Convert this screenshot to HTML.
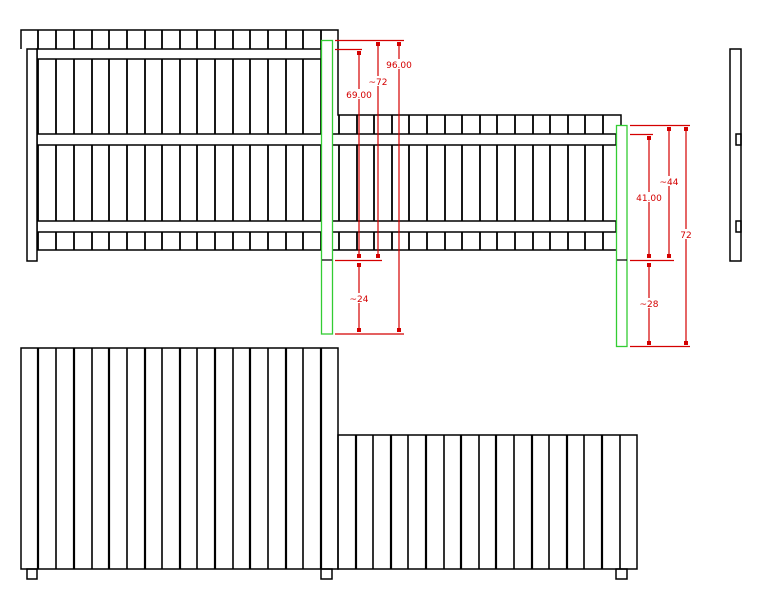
<!DOCTYPE html>
<html><head><meta charset="utf-8"><style>
html,body{margin:0;padding:0;background:#fff;width:762px;height:596px;overflow:hidden}
svg{display:block}
text{font-family:"DejaVu Sans","Liberation Sans",sans-serif;font-size:9px;fill:#d40000;text-anchor:middle}
</style></head><body>
<svg width="762" height="596" viewBox="0 0 762 596" xmlns="http://www.w3.org/2000/svg">
<g stroke="#000" fill="none">
<g stroke-width="1.8">
<path d="M38 30V250M56 30V250M74 30V250M92 30V250M109 30V250M127 30V250M145 30V250M162 30V250M180 30V250M197 30V250M215 30V250M233 30V250M250 30V250M268 30V250M286 30V250M303 30V250M321 30V250"/>
<path d="M339 115V250M357 115V250M374 115V250M392 115V250M409 115V250M427 115V250M445 115V250M462 115V250M480 115V250M497 115V250M515 115V250M533 115V250M550 115V250M568 115V250M585 115V250M603 115V250"/>
</g>
<g stroke-width="1.5">
<path d="M21 49V30H338V115H621V125"/>
<path d="M37 250H616"/>
</g>
<g fill="#fff" stroke-width="1.5">
<rect x="37" y="49" width="284" height="10"/>
<rect x="37" y="134" width="579" height="11"/>
<rect x="37" y="221" width="579" height="11"/>
<rect x="27" y="49" width="10" height="212"/>
</g>
<g stroke-width="1.5">
<rect x="730" y="49" width="11" height="212" fill="#fff"/>
<rect x="736" y="134" width="5" height="11"/>
<rect x="736" y="221" width="5" height="11"/>
</g>
<g stroke-width="1.5">
<rect x="21" y="348" width="317" height="221"/>
<rect x="338" y="435" width="299" height="134"/>
<rect x="27" y="569" width="10" height="10"/>
<rect x="321" y="569" width="11" height="10"/>
<rect x="616" y="569" width="11" height="10"/>
</g>
<g stroke-width="2.2">
<path d="M38 348V569M74 348V569M109 348V569M145 348V569M180 348V569M215 348V569M250 348V569M286 348V569M321 348V569"/>
<path d="M356 435V569M391 435V569M426 435V569M461 435V569M496 435V569M532 435V569M567 435V569M602 435V569"/>
</g>
<g stroke-width="1.6">
<path d="M56 348V569M92 348V569M127 348V569M162 348V569M197 348V569M233 348V569M268 348V569M303 348V569"/>
<path d="M373 435V569M408 435V569M444 435V569M479 435V569M514 435V569M549 435V569M584 435V569M620 435V569"/>
</g>
</g>
<g stroke="#33cc33" stroke-width="1.3" fill="#fff">
<rect x="321.5" y="40.5" width="11" height="293.5"/>
<rect x="616.5" y="125.5" width="10.5" height="221"/>
</g>
<path d="M322 260H332M617 260H627" stroke="#000" stroke-width="1.2"/>
<g stroke="#d40000" stroke-width="1.2" fill="none">
<path d="M335 40.5H404M335 49.5H362M335 260.5H382M335 334H404"/>
<path d="M359 53V257M359 265V330M378 44V257M399 44V330"/>
<path d="M630 125.5H690M630 134.5H653M630 260.5H674M630 346.5H690"/>
<path d="M649 138V256M649 265V343M669 129V256M686 129V343"/>
</g>
<g fill="#d40000">
<rect x="357" y="51" width="4" height="4"/><rect x="357" y="254" width="4" height="4"/><rect x="357" y="263" width="4" height="4"/><rect x="357" y="328" width="4" height="4"/>
<rect x="376" y="42" width="4" height="4"/><rect x="376" y="254" width="4" height="4"/>
<rect x="397" y="42" width="4" height="4"/><rect x="397" y="328" width="4" height="4"/>
<rect x="647" y="136" width="4" height="4"/><rect x="647" y="254" width="4" height="4"/><rect x="647" y="263" width="4" height="4"/><rect x="647" y="341" width="4" height="4"/>
<rect x="667" y="127" width="4" height="4"/><rect x="667" y="254" width="4" height="4"/>
<rect x="684" y="127" width="4" height="4"/><rect x="684" y="341" width="4" height="4"/>
</g>
<g>
<rect x="388" y="59" width="22" height="10" fill="#fff"/><text x="399" y="68">96.00</text>
<rect x="369" y="76" width="18" height="10" fill="#fff"/><text x="378" y="85">~72</text>
<rect x="347" y="89" width="24" height="10" fill="#fff"/><text x="359" y="98">69.00</text>
<rect x="350" y="293" width="18" height="10" fill="#fff"/><text x="359" y="302">~24</text>
<rect x="638" y="192" width="22" height="10" fill="#fff"/><text x="649" y="201">41.00</text>
<rect x="661" y="176" width="17" height="10" fill="#fff"/><text x="669" y="185">~44</text>
<rect x="680" y="229" width="12" height="10" fill="#fff"/><text x="686" y="238">72</text>
<rect x="641" y="298" width="17" height="10" fill="#fff"/><text x="649" y="307">~28</text>
</g>
</svg>
</body></html>
